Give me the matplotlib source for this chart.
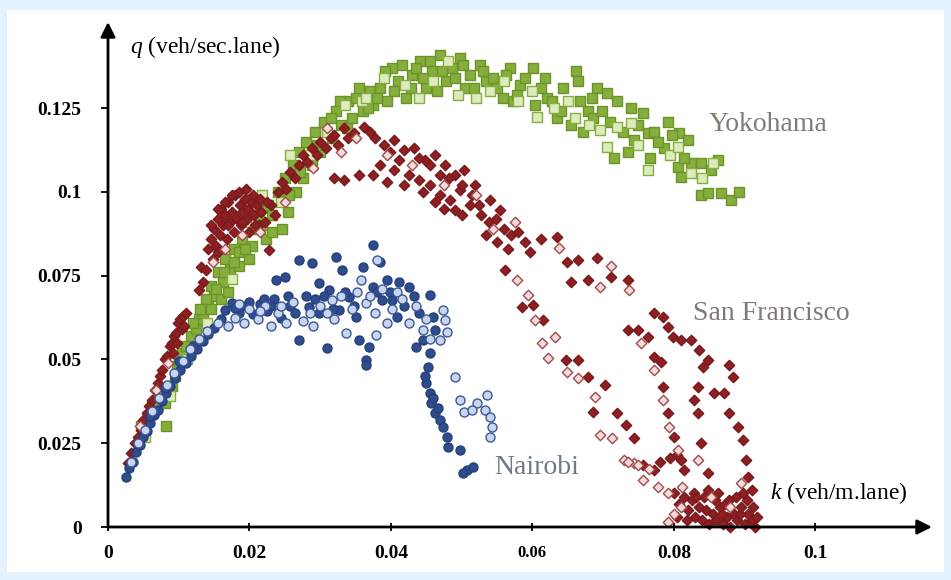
import matplotlib
matplotlib.use("Agg")
import matplotlib.pyplot as plt
from matplotlib.patches import Rectangle

# ---------------- data (k veh/m.lane, q veh/sec.lane) ----------------
yoko_filled = [
    (0.0047,0.030),(0.0082,0.030),(0.0057,0.033),(0.0062,0.036),(0.0070,0.040),(0.0081,0.037),(0.0090,0.042),
    (0.0095,0.045),(0.0097,0.048),(0.0100,0.049),(0.0105,0.052),(0.0110,0.054),(0.0118,0.057),(0.0124,0.059),
    (0.0128,0.062),(0.0135,0.064),(0.0142,0.067),(0.0146,0.065),(0.0146,0.072),(0.0150,0.069),(0.0156,0.076),
    (0.0160,0.068),(0.0162,0.073),(0.0166,0.080),(0.0170,0.070),(0.0172,0.077),(0.0178,0.083),(0.0185,0.082),
    (0.0185,0.078),(0.0190,0.086),(0.0199,0.080),(0.0203,0.084),(0.0207,0.089),(0.0213,0.093),(0.0223,0.086),
    (0.0226,0.096),(0.0232,0.088),(0.0240,0.100),(0.0246,0.089),(0.0250,0.104),(0.0255,0.094),(0.0262,0.108),
    (0.0266,0.100),(0.0270,0.112),(0.0276,0.104),(0.0280,0.115),(0.0289,0.108),(0.0292,0.118),(0.0300,0.112),
    (0.0306,0.121),(0.0317,0.116),(0.0322,0.124),(0.0330,0.120),(0.0340,0.127),(0.0345,0.122),(0.0351,0.128),
    (0.0360,0.124),(0.0370,0.130),(0.0374,0.126),(0.0384,0.131),(0.0394,0.127),(0.0402,0.137),(0.0410,0.133),
    (0.0422,0.128),(0.0430,0.135),(0.0441,0.139),(0.0450,0.131),(0.0458,0.136),(0.0469,0.141),(0.0478,0.133),
    (0.0487,0.137),(0.0497,0.140),(0.0505,0.131),(0.0512,0.135),(0.0526,0.138),(0.0535,0.133),(0.0544,0.134),
    (0.0558,0.128),(0.0568,0.137),(0.0573,0.127),(0.0583,0.132),(0.0601,0.137),(0.0604,0.126),(0.0618,0.134),
    (0.0621,0.128),(0.0635,0.122),(0.0644,0.131),(0.0654,0.120),(0.0661,0.136),(0.0664,0.133),(0.0672,0.118),
    (0.0678,0.124),(0.0686,0.122),(0.0692,0.131),(0.0706,0.1295),(0.0715,0.110),(0.0720,0.127),(0.0735,0.112),
    (0.0739,0.125),(0.0743,0.1155),(0.0757,0.1235),(0.0763,0.1175),(0.0767,0.110),(0.0772,0.118),(0.0786,0.113),
    (0.0792,0.121),(0.0807,0.1175),(0.0806,0.1074),(0.0810,0.1044),(0.0820,0.1155),(0.0824,0.1086),(0.0838,0.1086),
    (0.0838,0.099),(0.0848,0.0996),(0.0853,0.1065),(0.0863,0.1095),(0.0867,0.0996),(0.0881,0.0976),(0.0892,0.0999),
    (0.0315,0.122),(0.0328,0.127),(0.0338,0.119),(0.0355,0.131),(0.0368,0.125),(0.0380,0.128),(0.0392,0.136),
    (0.0405,0.130),(0.0415,0.138),(0.0428,0.131),(0.0436,0.137),(0.0445,0.134),(0.0455,0.139),(0.0465,0.130),
    (0.0472,0.136),(0.0490,0.134),(0.0502,0.138),(0.0518,0.131),(0.0530,0.136),(0.0550,0.131),(0.0563,0.135),
    (0.0578,0.129),(0.0590,0.134),(0.0612,0.131),(0.0628,0.127),(0.0640,0.124),(0.0668,0.127),(0.0684,0.128),
    (0.0698,0.124),(0.0710,0.121),(0.0728,0.118),(0.0750,0.120),(0.0778,0.115),(0.0798,0.117),(0.0815,0.110),
    (0.0232,0.093),(0.0218,0.090),(0.0193,0.083),(0.0178,0.079),(0.0164,0.076),(0.0152,0.071),(0.0138,0.068),
    (0.0130,0.065),(0.0120,0.061),(0.0256,0.099),(0.0272,0.106),(0.0296,0.114),
]
yoko_hollow = [
    (0.0052,0.027),(0.0088,0.039),(0.0112,0.050),(0.0140,0.061),(0.0175,0.074),(0.0195,0.091),(0.0218,0.099),
    (0.0245,0.097),(0.0258,0.111),(0.0285,0.111),(0.0310,0.118),(0.0335,0.126),(0.0359,0.127),(0.0365,0.128),
    (0.0390,0.134),(0.0420,0.132),(0.0440,0.128),(0.0460,0.133),(0.0480,0.139),(0.0495,0.129),(0.0520,0.128),
    (0.0540,0.130),(0.0560,0.133),(0.0580,0.127),(0.0600,0.130),(0.0607,0.1223),(0.0630,0.125),(0.0650,0.127),
    (0.0660,0.122),(0.0680,0.120),(0.0696,0.1184),(0.0706,0.1134),(0.0720,0.1193),(0.0740,0.1205),(0.0750,0.114),
    (0.0763,0.1065),(0.0795,0.111),(0.0806,0.1134),(0.0824,0.1056),(0.0840,0.104),(0.0855,0.1085),
]
sf_filled = [
    (0.0028,0.019),(0.0033,0.022),(0.0038,0.025),(0.0042,0.027),(0.0046,0.029),(0.0050,0.032),(0.0055,0.034),
    (0.0058,0.036),(0.0062,0.038),(0.0066,0.041),(0.0070,0.043),(0.0073,0.045),(0.0077,0.047),(0.0080,0.050),
    (0.0084,0.051),(0.0087,0.054),(0.0090,0.055),(0.0093,0.057),(0.0096,0.058),(0.0099,0.061),(0.0102,0.062),
    (0.0106,0.063),(0.0110,0.064),(0.0104,0.059),(0.0092,0.052),(0.0097,0.055),(0.0108,0.060),
    (0.0128,0.0707),(0.0132,0.0776),(0.0138,0.0767),(0.0135,0.073),
    (0.0142,0.083),(0.0146,0.086),(0.0150,0.089),(0.0152,0.084),(0.0155,0.092),(0.0158,0.087),(0.0160,0.095),
    (0.0163,0.090),(0.0166,0.093),(0.0168,0.086),(0.0170,0.097),(0.0173,0.091),(0.0176,0.094),(0.0178,0.088),
    (0.0180,0.099),(0.0183,0.092),(0.0186,0.096),(0.0188,0.090),(0.0190,0.094),(0.0193,0.098),(0.0196,0.092),
    (0.0198,0.095),(0.0200,0.088),(0.0203,0.097),(0.0206,0.093),(0.0210,0.096),(0.0213,0.090),(0.0217,0.094),
    (0.0222,0.091),(0.0227,0.0826),(0.0230,0.096),(0.0236,0.093),
    (0.0145,0.090),(0.0155,0.095),(0.0165,0.097),(0.0175,0.099),(0.0185,0.100),(0.0195,0.101),(0.0205,0.099),
    (0.0215,0.098),(0.0225,0.097),(0.0170,0.090),(0.0190,0.091),(0.0208,0.090),(0.0156,0.082),(0.0148,0.080),
    (0.0240,0.100),(0.0246,0.103),(0.0252,0.101),(0.0258,0.106),(0.0264,0.104),(0.0270,0.108),(0.0276,0.111),
    (0.0282,0.109),(0.0288,0.113),(0.0295,0.111),(0.0300,0.115),(0.0308,0.113),(0.0315,0.116),
    (0.0320,0.117),(0.0334,0.119),(0.0348,0.1175),(0.0362,0.1193),(0.0377,0.116),(0.0390,0.114),(0.0405,0.1155),
    (0.0419,0.1125),(0.0433,0.113),(0.0448,0.1095),(0.0462,0.111),(0.0476,0.108),(0.0490,0.105),(0.0504,0.1065),
    (0.0519,0.102),(0.0497,0.1005),(0.0483,0.0976),(0.0469,0.099),(0.0455,0.102),(0.0440,0.1035),(0.0426,0.105),
    (0.0405,0.1065),(0.0384,0.108),(0.0355,0.105),(0.0334,0.1035),(0.0320,0.104),(0.0412,0.1095),(0.0512,0.096),
    (0.0490,0.0946),(0.0469,0.105),(0.0540,0.0976),(0.0554,0.0946),
    (0.0325,0.114),(0.0340,0.116),(0.0370,0.118),(0.0398,0.112),(0.0440,0.110),(0.0455,0.108),(0.0482,0.104),
    (0.0500,0.102),(0.0515,0.099),(0.0525,0.096),(0.0375,0.105),(0.0395,0.103),(0.0418,0.102),(0.0445,0.100),
    (0.0462,0.097),(0.0475,0.095),(0.0500,0.093),
    (0.0528,0.093),(0.0538,0.091),(0.0548,0.092),(0.0560,0.089),(0.0570,0.087),(0.0580,0.088),(0.0590,0.085),
    (0.0535,0.087),(0.0550,0.085),(0.0566,0.083),(0.0597,0.082),(0.0612,0.086),
    (0.0635,0.0865),(0.0649,0.079),(0.0664,0.0797),(0.0692,0.0802),(0.0711,0.0746),(0.0735,0.0737),(0.0654,0.0731),
    (0.0679,0.0737),(0.0561,0.0767),(0.0585,0.0656),(0.0601,0.0662),(0.0615,0.0618),(0.0647,0.0498),(0.0664,0.0498),
    (0.0678,0.0447),(0.0703,0.0424),(0.0686,0.0343),(0.0720,0.0340),(0.0732,0.0304),(0.0743,0.0266),(0.0757,0.0185),
    (0.0772,0.0170),(0.0772,0.0638),(0.0784,0.0627),(0.0792,0.0597),(0.0799,0.0567),(0.0824,0.0558),(0.0836,0.0528),
    (0.0841,0.0477),(0.0834,0.0418),(0.0828,0.0379),(0.0834,0.0340),(0.0838,0.0250),(0.0848,0.0161),(0.0735,0.0588),
    (0.0749,0.0588),(0.0763,0.0567),(0.0772,0.0507),(0.0782,0.0492),(0.0784,0.0418),(0.0792,0.0340),(0.0800,0.0268),
    (0.0810,0.0200),(0.0814,0.0170),(0.0878,0.0483),(0.0884,0.0447),(0.0857,0.0400),(0.0871,0.0400),(0.0878,0.0340),
    (0.0891,0.0298),(0.0898,0.0260),(0.0902,0.0200),(0.0905,0.0149),(0.0910,0.0110),(0.0848,0.0498),(0.0810,0.0558),
    (0.0780,0.0195),(0.0795,0.0205),(0.0805,0.0215),
    (0.0800,0.010),(0.0808,0.007),(0.0815,0.009),(0.0820,0.005),(0.0825,0.008),(0.0830,0.003),(0.0835,0.006),
    (0.0840,0.002),(0.0845,0.005),(0.0850,0.001),(0.0855,0.004),(0.0860,0.002),(0.0865,0.006),(0.0870,0.001),
    (0.0875,0.003),(0.0880,0.000),(0.0885,0.004),(0.0890,0.002),(0.0895,0.006),(0.0900,0.001),(0.0905,0.004),
    (0.0910,0.002),(0.0915,0.000),(0.0918,0.003),(0.0828,0.010),(0.0842,0.009),(0.0858,0.008),(0.0872,0.007),
    (0.0888,0.009),(0.0898,0.010),
    (0.0805,0.003),(0.0818,0.002),(0.0832,0.009),(0.0848,0.011),(0.0862,0.010),(0.0868,0.004),(0.0878,0.008),
    (0.0893,0.004),(0.0903,0.008),(0.0912,0.006),
]
sf_hollow = [
    (0.0045,0.030),(0.0068,0.041),(0.0085,0.049),(0.0148,0.079),(0.0165,0.083),(0.0190,0.087),(0.0215,0.088),
    (0.0250,0.097),(0.0290,0.107),(0.0310,0.119),(0.0330,0.112),(0.0350,0.116),(0.0395,0.111),(0.0430,0.108),
    (0.0475,0.102),(0.0520,0.099),(0.0545,0.089),(0.0575,0.091),(0.0637,0.0832),(0.0711,0.0780),(0.0578,0.0737),
    (0.0594,0.0692),(0.0604,0.0618),(0.0632,0.0567),(0.0614,0.0549),(0.0622,0.0504),(0.0649,0.0462),(0.0664,0.0445),
    (0.0689,0.0388),(0.0696,0.0274),(0.0713,0.0266),(0.0729,0.0200),(0.0743,0.0190),(0.0757,0.0140),(0.0777,0.0119),
    (0.0792,0.0101),(0.0810,0.0060),(0.0736,0.0707),(0.0696,0.0716),(0.0753,0.0549),(0.0772,0.0468),(0.0784,0.0379),
    (0.0793,0.0298),(0.0806,0.0230),(0.0834,0.0200),(0.0792,0.0015),(0.0800,0.0040),(0.0853,0.0090),(0.0880,0.0060),
    (0.0895,0.0130),(0.0812,0.0120),(0.0735,0.0195),(0.0750,0.0185),(0.0765,0.0172),
]
nai_filled = [
    (0.0025,0.0150),(0.0030,0.0175),(0.0035,0.0195),(0.0040,0.0225),(0.0045,0.0245),(0.0050,0.0270),(0.0055,0.0285),
    (0.0060,0.0310),(0.0065,0.0335),(0.0070,0.0350),(0.0076,0.0375),(0.0082,0.0400),(0.0088,0.0420),(0.0095,0.0445),
    (0.0102,0.0470),(0.0110,0.0490),(0.0118,0.0510),(0.0126,0.0530),(0.0134,0.0555),(0.0142,0.0575),(0.0150,0.0595),
    (0.0160,0.0620),(0.0166,0.0647),(0.0175,0.0668),(0.0185,0.0640),(0.0195,0.0660),(0.0205,0.0635),(0.0215,0.0665),
    (0.0225,0.0645),
    (0.0235,0.0680),(0.0237,0.0737),(0.0250,0.0746),(0.0245,0.0625),(0.0258,0.0660),(0.0270,0.0797),(0.0270,0.0558),
    (0.0280,0.0690),(0.0289,0.0788),(0.0284,0.0656),(0.0298,0.0728),(0.0298,0.0638),(0.0310,0.0534),(0.0313,0.0707),
    (0.0322,0.0806),(0.0327,0.0647),(0.0331,0.0767),(0.0341,0.0686),(0.0351,0.0627),(0.0355,0.0558),(0.0360,0.0776),
    (0.0365,0.0498),(0.0365,0.0483),(0.0369,0.0537),(0.0374,0.0841),(0.0374,0.0716),(0.0384,0.0790),(0.0388,0.0677),
    (0.0394,0.0737),(0.0402,0.0677),(0.0408,0.0627),(0.0412,0.0731),(0.0426,0.0716),(0.0436,0.0537),(0.0445,0.0558),
    (0.0455,0.0692),(0.0459,0.0627),(0.0462,0.0588),
    (0.0180,0.0655),(0.0200,0.0670),(0.0220,0.0680),(0.0255,0.0690),(0.0265,0.0640),(0.0292,0.0680),(0.0305,0.0690),
    (0.0318,0.0650),(0.0335,0.0700),(0.0348,0.0660),(0.0380,0.0700),(0.0398,0.0700),(0.0418,0.0660),(0.0432,0.0690),
    (0.0440,0.0640),(0.0230,0.0660),(0.0120,0.0540),(0.0100,0.0495),(0.0080,0.0415),(0.0060,0.0330),
    (0.0455,0.0520),(0.0452,0.0477),(0.0450,0.0430),(0.0455,0.0400),(0.0457,0.0370),(0.0462,0.0340),(0.0469,0.0319),
    (0.0473,0.0298),(0.0479,0.0268),(0.0480,0.0239),(0.0497,0.0230),(0.0507,0.0170),(0.0516,0.0179),(0.0448,0.0450),
    (0.0460,0.0385),(0.0466,0.0355),(0.0502,0.0160),
]
nai_hollow = [
    (0.0033,0.0195),(0.0043,0.0250),(0.0052,0.0290),(0.0062,0.0345),(0.0072,0.0385),(0.0084,0.0425),(0.0094,0.0460),
    (0.0106,0.0495),(0.0116,0.0530),(0.0128,0.0560),(0.0140,0.0585),(0.0155,0.0610),(0.0170,0.0600),(0.0180,0.0625),
    (0.0192,0.0610),(0.0200,0.0650),(0.0212,0.0620),(0.0222,0.0660),(0.0230,0.0600),(0.0240,0.0640),(0.0252,0.0610),
    (0.0262,0.0670),(0.0275,0.0615),(0.0290,0.0600),(0.0300,0.0660),(0.0317,0.0677),(0.0320,0.0620),(0.0336,0.0580),
    (0.0345,0.0650),(0.0358,0.0737),(0.0365,0.0668),(0.0377,0.0640),(0.0379,0.0573),(0.0381,0.0797),(0.0395,0.0610),
    (0.0408,0.0701),(0.0416,0.0680),(0.0426,0.0609),(0.0445,0.0588),(0.0473,0.0647),(0.0476,0.0618),(0.0479,0.0582),
    (0.0469,0.0558),(0.0490,0.0447),(0.0497,0.0379),(0.0504,0.0343),(0.0521,0.0370),(0.0536,0.0394),(0.0533,0.0349),
    (0.0540,0.0328),(0.0543,0.0298),(0.0540,0.0268),(0.0514,0.0349),
    (0.0185,0.0665),(0.0215,0.0645),(0.0245,0.0660),(0.0285,0.0640),(0.0310,0.0640),(0.0330,0.0690),(0.0352,0.0700),
    (0.0370,0.0690),(0.0388,0.0710),(0.0402,0.0650),(0.0435,0.0660),(0.0450,0.0620),(0.0455,0.0560),
]
x_ticks = [0, 0.02, 0.04, 0.06, 0.08, 0.1]
x_tick_labels = ["0", "0.02", "0.04", "0.06", "0.08", "0.1"]
y_ticks = [0, 0.025, 0.05, 0.075, 0.1, 0.125]
y_tick_labels = ["0", "0.025", "0.05", "0.075", "0.1", "0.125"]
city_labels = ["Yokohama", "San Francisco", "Nairobi"]

# ---------------- figure ----------------
plt.rcParams['font.family'] = ['Liberation Serif', 'DejaVu Serif']
plt.rcParams['mathtext.fontset'] = 'custom'
plt.rcParams['mathtext.it'] = 'Liberation Serif:italic'
plt.rcParams['mathtext.rm'] = 'Liberation Serif'

fig = plt.figure(figsize=(9.51, 5.80), dpi=100)
fig.patch.set_facecolor('#E3F2FD')
fig.add_artist(Rectangle((7/951, 8/580), 937/951, 562/580, transform=fig.transFigure,
                         facecolor='white', edgecolor='none', zorder=0))

ax = fig.add_axes([108/951, 53/580, 824/951, 505/580])
ax.set_facecolor('none')
ax.set_xlim(0, 0.1165)
ax.set_ylim(0, 0.1507)
for s in ax.spines.values():
    s.set_visible(False)

def sc(data, marker, size, face, edge, z):
    ks = [p[0] for p in data]
    qs = [p[1] for p in data]
    ax.scatter(ks, qs, marker=marker, s=size, facecolor=face, edgecolor=edge,
               linewidths=1.0, zorder=z, clip_on=False)

sc(yoko_filled, 's', 48, '#86AE3C', '#6A9428', 2)
sc(yoko_hollow, 's', 48, '#DDEBBF', '#86AE3C', 2)
sc(sf_filled, 'D', 28, '#8E1F22', '#7A1A1C', 3)
sc(sf_hollow, 'D', 28, '#F3DCDC', '#A4494C', 3)
sc(nai_filled, 'o', 42, '#2F4D8E', '#243F78', 4)
sc(nai_hollow, 'o', 42, '#C9D5EE', '#3A5895', 4)

# axes with arrows
ax.annotate('', xy=(1, 0), xytext=(0, 0), xycoords='axes fraction',
            arrowprops=dict(arrowstyle='-|>', color='black', lw=2.0, mutation_scale=22,
                            shrinkA=0, shrinkB=0), zorder=5)
ax.annotate('', xy=(0, 1), xytext=(0, 0), xycoords='axes fraction',
            arrowprops=dict(arrowstyle='-|>', color='black', lw=2.0, mutation_scale=22,
                            shrinkA=0, shrinkB=0), zorder=5)

ax.set_xticks(x_ticks)
ax.set_xticklabels(x_tick_labels)
ax.set_yticks(y_ticks)
ax.set_yticklabels(y_tick_labels)
ax.tick_params(axis='x', direction='inout', length=6, width=1.3, pad=10, labelsize=14)
ax.tick_params(axis='y', direction='out', length=5, width=1.3, pad=14, labelsize=14)
for lab in ax.get_xticklabels() + ax.get_yticklabels():
    lab.set_fontweight('bold')
ax.get_xticklabels()[3].set_fontsize(12)

ax.text(0.0031, 0.1432, r'$q$ (veh/sec.lane)', fontsize=17, ha='left', va='center', color='black')
ax.text(0.0936, 0.0101, r'$k$ (veh/m.lane)', fontsize=17, ha='left', va='center', color='black')

ax.text(0.0849, 0.1202, city_labels[0], fontsize=20, ha='left', va='center', color='#7E7F74')
ax.text(0.0827, 0.0638, city_labels[1], fontsize=20, ha='left', va='center', color='#857676')
ax.text(0.0546, 0.0179, city_labels[2], fontsize=20, ha='left', va='center', color='#6F7888')

fig.savefig('out.png', dpi=100, facecolor=fig.get_facecolor())
